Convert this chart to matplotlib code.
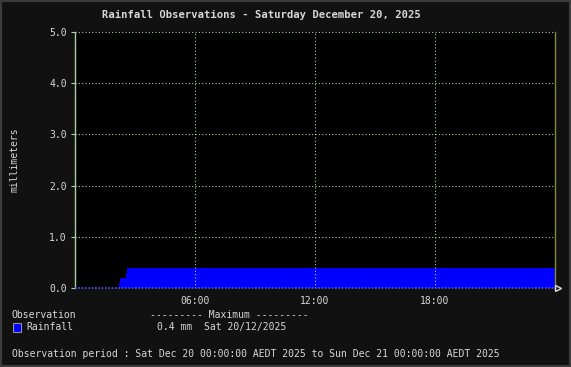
import matplotlib
matplotlib.use("Agg")
import matplotlib.pyplot as plt
from matplotlib.patches import Rectangle

# cumulative rainfall (mm) against hour of day
hours = [0.0, 2.2, 2.25, 2.55, 2.6, 24.0]
rain = [0.0, 0.1, 0.2, 0.3, 0.4, 0.4]

yticks = [0.0, 1.0, 2.0, 3.0, 4.0, 5.0]
xticks = [6, 12, 18]
xlabels = ["06:00", "12:00", "18:00"]

title = "Rainfall Observations - Saturday December 20, 2025"
period = "Observation period : Sat Dec 20 00:00:00 AEDT 2025 to Sun Dec 21 00:00:00 AEDT 2025"

W, H = 571, 367
txt = "#d8d8d8"
grid_c = "#a8d0a0"
mono = "DejaVu Sans Mono"

fig = plt.figure(figsize=(W / 100, H / 100), dpi=100)
fig.patch.set_facecolor("#111111")
# outer frame
fig.add_artist(Rectangle((0, 0), 1, 1, transform=fig.transFigure, fill=False,
                         edgecolor="#3c3c3c", linewidth=3))

ax = fig.add_axes([75 / W, (H - 288) / H, 480 / W, 256 / H])
ax.set_facecolor("black")

ax.fill_between(hours, rain, 0, step="post", color="#0000ff", linewidth=0)

ax.set_xlim(0, 24)
ax.set_ylim(0, 5)

for y in yticks[1:]:
    ax.axhline(y, color=grid_c, linestyle=(0, (1, 2)), linewidth=0.8,
               zorder=3)
for x in xticks:
    ax.axvline(x, color=grid_c, linestyle=(0, (1, 2)), linewidth=0.8, zorder=3)
# x axis line
ax.axhline(0, color="#5050ff", linestyle=(0, (1, 1)), linewidth=1.2, zorder=4,
           clip_on=False)
ax.plot([24.15], [0], marker=">", markersize=5, markerfacecolor="none",
        markeredgecolor="#e0e0e0", clip_on=False, zorder=5)

for side in ["top", "bottom"]:
    ax.spines[side].set_visible(False)
ax.spines["left"].set_color("#a8d0a0")
ax.spines["left"].set_linewidth(1)
ax.spines["right"].set_color("#8a8a30")
ax.spines["right"].set_linewidth(1)

ax.set_yticks(yticks)
ax.set_yticklabels([f"{v:.1f}" for v in yticks])
ax.set_xticks(xticks)
ax.set_xticklabels(xlabels)
ax.tick_params(axis="y", colors=grid_c, labelcolor=txt, length=3, width=0.8,
               pad=3, labelsize=7)
ax.tick_params(axis="x", length=0, labelcolor=txt, pad=6, labelsize=7)
for lab in ax.get_xticklabels() + ax.get_yticklabels():
    lab.set_family(mono)

fig.text(14 / W, 1 - 160 / H, "millimeters", color=txt, fontsize=7,
         family=mono, rotation=90, ha="center", va="center")

fig.text(261 / W, 1 - 15 / H, title, color=txt, fontsize=7.6, weight="bold",
         family=mono, ha="center", va="center")

def ftext(x, y, s, **kw):
    fig.text(x / W, 1 - y / H, s, color=txt, fontsize=7, family=mono,
             va="center", **kw)

ftext(12, 315, "Observation")
ftext(150, 315, "--------- Maximum ---------")
fig.add_artist(Rectangle((12.5 / W, 1 - 331.5 / H), 8.5 / W, 8.5 / H,
                         transform=fig.transFigure, facecolor="#0000ff",
                         edgecolor="#909090", linewidth=0.8))
ftext(26, 327, "Rainfall")
ftext(157, 327, f"{max(rain):.1f} mm  Sat 20/12/2025")
ftext(12, 354, period)

fig.savefig("out.png", dpi=100, facecolor=fig.get_facecolor())
